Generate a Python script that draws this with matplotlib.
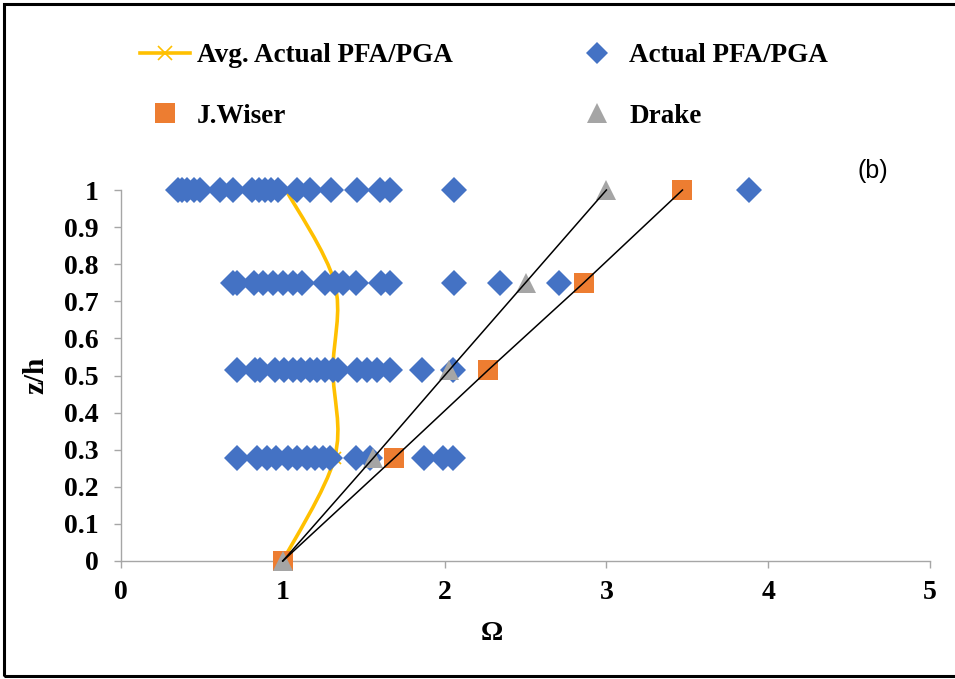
import matplotlib
matplotlib.use("Agg")
import matplotlib.pyplot as plt
import numpy as np
from matplotlib.lines import Line2D
from matplotlib.patches import PathPatch, Rectangle
from matplotlib.path import Path

# ---- data ----
LEVELS = [1.0, 0.75, 0.515, 0.278]  # z/h of the instrumented floors

omega_100 = [0.35, 0.38, 0.41, 0.45, 0.49, 0.61, 0.69, 0.81, 0.85, 0.89, 0.93,
             0.97, 1.09, 1.17, 1.30, 1.46, 1.60, 1.66, 2.06, 3.88]
omega_075 = [0.69, 0.72, 0.82, 0.88, 0.94, 1.00, 1.06, 1.12, 1.26, 1.32, 1.37,
             1.45, 1.61, 1.66, 2.06, 2.34, 2.71]
omega_052 = [0.72, 0.83, 0.86, 0.95, 1.01, 1.06, 1.11, 1.17, 1.21, 1.26, 1.31,
             1.34, 1.46, 1.52, 1.58, 1.66, 1.86, 2.05]
omega_028 = [0.72, 0.84, 0.90, 0.96, 1.03, 1.09, 1.15, 1.20, 1.25, 1.29, 1.45,
             1.54, 1.87, 1.99, 2.05]

avg_z = [1.0, 0.75, 0.515, 0.278, 0.0]
avg_omega = [1.02, 1.32, 1.31, 1.32, 1.0]

wiser_z = [0.0, 0.278, 0.515, 0.75, 1.0]
wiser_omega = [1.0, 1.69, 2.27, 2.86, 3.47]

drake_z = [0.0, 0.278, 0.515, 0.75, 1.0]
drake_omega = [1.0, 1.56, 2.03, 2.50, 3.0]

BLUE = "#4472C4"
ORANGE = "#ED7D31"
GRAY = "#A5A5A5"
YELLOW = "#FFC000"
AXIS_GRAY = "#A6A6A6"
SERIF = "Liberation Serif"


def smooth_path(xs, ys):
    # Excel-style smoothed line: Catmull-Rom segments as cubic Beziers
    pts = np.column_stack([xs, ys]).astype(float)
    n = len(pts)
    verts = [pts[0]]
    codes = [Path.MOVETO]
    for i in range(n - 1):
        p0 = pts[i - 1] if i > 0 else pts[i]
        p1, p2 = pts[i], pts[i + 1]
        p3 = pts[i + 2] if i + 2 < n else pts[i + 1]
        c1 = p1 + (p2 - p0) / 6.0
        c2 = p2 - (p3 - p1) / 6.0
        verts += [c1, c2, p2]
        codes += [Path.CURVE4] * 3
    return Path(verts, codes)


fig = plt.figure(figsize=(9.55, 6.79), dpi=100)
ax = fig.add_axes([121 / 955, 1 - 561 / 679, (930 - 121) / 955, (561 - 190) / 679])

# average curve (bottom layer)
ax.add_patch(PathPatch(smooth_path(avg_omega, avg_z), fill=False, ec=YELLOW,
                       lw=2.6, zorder=2, clip_on=False))
ax.plot(avg_omega, avg_z, ls="none", marker="x", ms=9, mew=1.2, color=YELLOW,
        zorder=2, clip_on=False)

# actual PFA/PGA scatter
for lvl, vals in zip(LEVELS, [omega_100, omega_075, omega_052, omega_028]):
    ax.plot(vals, [lvl] * len(vals), ls="none", marker="D", ms=13, mew=0,
            color=BLUE, zorder=3, clip_on=False)

# code predictions
ax.plot(wiser_omega, wiser_z, ls="none", marker="s", ms=15, mew=0,
        color=ORANGE, zorder=4, clip_on=False)
ax.plot(drake_omega, drake_z, ls="none", marker="^", ms=15, mew=0,
        color=GRAY, zorder=5, clip_on=False)
ax.plot(wiser_omega, wiser_z, color="black", lw=1.1, zorder=6, clip_on=False)
ax.plot(drake_omega, drake_z, color="black", lw=1.1, zorder=6, clip_on=False)

ax.set_xlim(0, 5)
ax.set_ylim(0, 1)
ax.set_xticks(np.arange(0, 6, 1))
ax.set_yticks(np.round(np.arange(0, 1.01, 0.1), 1))
ax.set_yticklabels(["0", "0.1", "0.2", "0.3", "0.4", "0.5", "0.6", "0.7",
                    "0.8", "0.9", "1"])
for side in ("top", "right"):
    ax.spines[side].set_visible(False)
for side in ("left", "bottom"):
    ax.spines[side].set_color(AXIS_GRAY)
    ax.spines[side].set_linewidth(1.0)
ax.tick_params(axis="both", direction="out", length=5, width=1,
               color=AXIS_GRAY, labelsize=20)
ax.tick_params(axis="y", pad=11)
ax.tick_params(axis="x", pad=9)
for lab in ax.get_xticklabels() + ax.get_yticklabels():
    lab.set_fontfamily(SERIF)
    lab.set_fontweight("bold")

fig.text(492 / 955, 1 - 634 / 679, "Ω", fontfamily=SERIF, fontweight="bold",
         fontsize=20, ha="center", va="center")
fig.text(36 / 955, 1 - 375 / 679, "z/h", fontfamily=SERIF, fontweight="bold",
         fontsize=21, ha="center", va="center", rotation=90)

fig.text(873 / 955, 1 - 171 / 679, "(b)", fontfamily="Liberation Sans",
         fontsize=18, ha="center", va="center")

handles = [
    Line2D([], [], color=YELLOW, lw=2.6, marker="x", ms=10, mew=1.2),
    Line2D([], [], ls="none", marker="s", ms=14, mew=0, color=ORANGE),
    Line2D([], [], ls="none", marker="D", ms=11, mew=0, color=BLUE),
    Line2D([], [], ls="none", marker="^", ms=14, mew=0, color=GRAY),
]
labels = ["Avg. Actual PFA/PGA", "J.Wiser", "Actual PFA/PGA", "Drake"]
fig.legend(handles, labels, ncol=2, loc="upper left",
           bbox_to_anchor=(140 / 955, 1 - 43 / 679), frameon=False,
           prop={"family": SERIF, "weight": "bold", "size": 19.5},
           handlelength=1.85, handletextpad=0.26, columnspacing=4.4,
           labelspacing=1.32, borderpad=0, borderaxespad=0)

fig.patches.append(Rectangle((4 / 955, 1 - 676 / 679), 1.0, 672 / 679,
                             transform=fig.transFigure, fill=False,
                             ec="black", lw=2.2))

fig.savefig("out.png", dpi=100)
